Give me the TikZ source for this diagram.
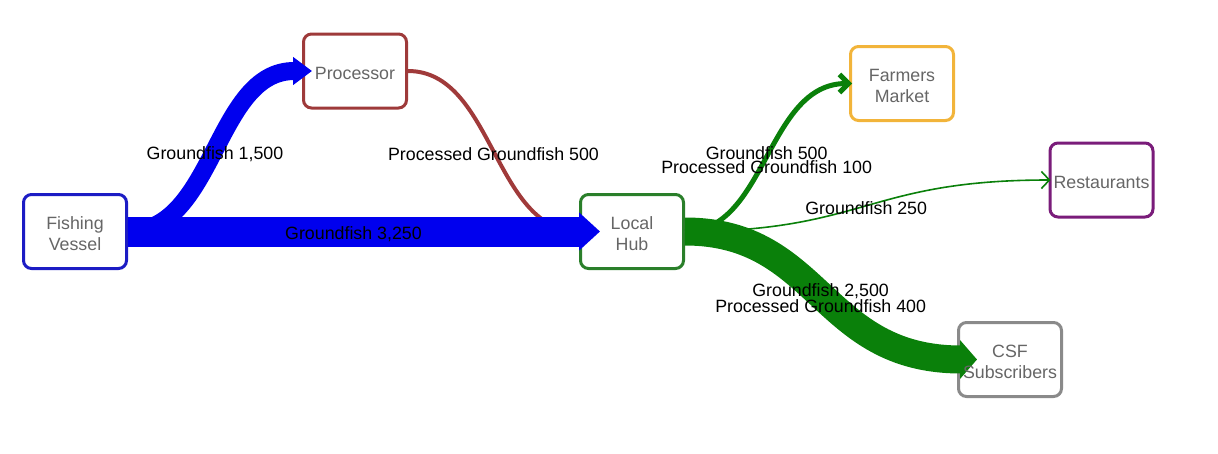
\documentclass[tikz,border=0pt]{standalone}
\usepackage{fontspec}
\setmainfont{Liberation Sans}
\usetikzlibrary{positioning,arrows.meta}
\definecolor{flowBlue}{HTML}{0000EE}
\definecolor{flowGreen}{HTML}{0A800A}
\definecolor{flowRed}{HTML}{A03A3A}
\definecolor{boxBlue}{HTML}{1C1CC4}
\definecolor{boxRed}{HTML}{9E3A3A}
\definecolor{boxGreen}{HTML}{2A7F2A}
\definecolor{boxOrange}{HTML}{F2B43A}
\definecolor{boxPurple}{HTML}{7A1C7A}
\definecolor{boxGray}{HTML}{8A8A8A}
\definecolor{txtGray}{HTML}{666666}

\begin{document}
\begin{tikzpicture}[
  x=1pt, y=-1pt,
  font=\fontsize{17.8}{21}\selectfont,
  actor/.style={
    rectangle, line width=3pt, rounded corners=8pt, fill=white,
    minimum width=103pt, minimum height=74pt, inner sep=0pt
  },
  actortext/.style={text=txtGray, align=center, inner sep=0pt, yshift=-2.5pt},
  flow/.style={line cap=butt},
  amount/.style={
    text=black, align=center, inner sep=0pt, yshift=-2.5pt,
    font=\fontsize{17.8}{12.5}\selectfont
  }
]
  \useasboundingbox (0,0) rectangle (1218,453);

  % Boxes
  \node[actor, draw=boxBlue] (vessel) at (75,231.5) {};
  \node[actor, draw=boxGreen, right=451pt of vessel] (hub) {};
  \node[actor, draw=boxRed] (processor) at (355,71) {};
  \node[actor, draw=boxOrange] (market) at (902,83.5) {};
  \node[actor, draw=boxPurple] (restaurants) at (1101.5,180) {};
  \node[actor, draw=boxGray] (csf) at (1010,359.5) {};

  % Fishing Vessel -> Processor
  \draw[flow, draw=flowBlue, line width=18pt,
        -{Triangle[length=19pt,width=27pt]}, shorten >=-10pt]
    (vessel.east) .. controls (215,231.5) and (215,71) .. (processor.west)
    node[amount, pos=0.5] (lblproc) {Groundfish 1,500};

  % Processor -> Local Hub
  \draw[flow, draw=flowRed, line width=4pt]
    (processor.east) .. controls (493.5,71) and (493.5,231.5) .. (hub.west)
    node[amount, pos=0.5] (lblprocessed) {Processed Groundfish 500};

  % Fishing Vessel -> Local Hub
  \draw[flow, draw=flowBlue, line width=30pt,
        -{Triangle[length=21pt,width=37pt]}, shorten >=-21pt]
    (vessel.east) -- node[amount] (lblhub) {Groundfish 3,250} (hub.west);

  % Local Hub -> CSF Subscribers
  \draw[flow, draw=flowGreen, line width=28pt,
        -{Triangle[length=17pt,width=38pt]}, shorten >=-20pt]
    (hub.east) .. controls (820.5,231.5) and (820.5,359.5) .. (csf.west)
    node[amount, pos=0.5] (lblcsf) {Groundfish 2,500\\Processed Groundfish 400};

  % Local Hub -> Farmers Market
  \draw[flow, draw=flowGreen, line width=5pt,
        -{Straight Barb[length=9pt,width=18pt]}, shorten >=-3pt]
    (hub.east) .. controls (766.5,231.5) and (766.5,83.5) .. (market.west)
    node[amount, pos=0.5] (lblmarket) {Groundfish 500\\Processed Groundfish 100};

  % Local Hub -> Restaurants
  \draw[flow, draw=flowGreen, line width=1.6pt,
        -{Straight Barb[length=8pt,width=17pt]}, shorten >=-2pt]
    (hub.east) .. controls (866,231.5) and (866,180) .. (restaurants.west)
    node[amount, pos=0.5] (lblrest) {Groundfish 250};

  % Box texts
  \node[actortext] (vesseltxt) at (vessel) {Fishing\\Vessel};
  \node[actortext] (hubtxt) at (hub) {Local\\Hub};
  \node[actortext] (proctxt) at (processor) {Processor};
  \node[actortext] (markettxt) at (market) {Farmers\\Market};
  \node[actortext] (resttxt) at (restaurants) {Restaurants};
  \node[actortext] (csftxt) at (csf) {CSF\\Subscribers};

\end{tikzpicture}
\end{document}
